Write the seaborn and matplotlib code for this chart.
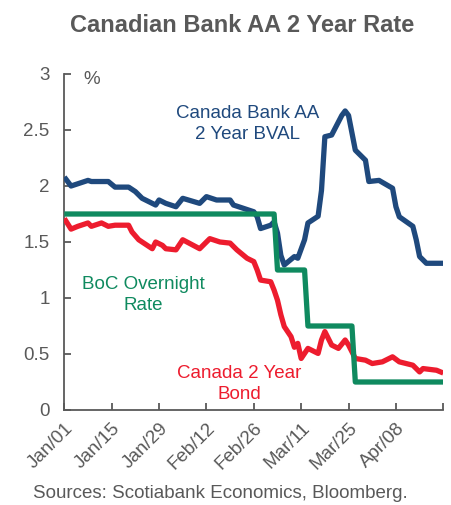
import matplotlib
matplotlib.use("Agg")
import matplotlib.pyplot as plt
import pandas as pd
import seaborn as sns

# ---- data ----
bval_dates = ["2020-01-01", "2020-01-03", "2020-01-05", "2020-01-08", "2020-01-09", "2020-01-14",
              "2020-01-16", "2020-01-20", "2020-01-22", "2020-01-24", "2020-01-28", "2020-01-29",
              "2020-01-31", "2020-02-03", "2020-02-05", "2020-02-10", "2020-02-12", "2020-02-15",
              "2020-02-19", "2020-02-20", "2020-02-23", "2020-02-26", "2020-02-27", "2020-02-28",
              "2020-03-02", "2020-03-03", "2020-03-04", "2020-03-05", "2020-03-06", "2020-03-09",
              "2020-03-10", "2020-03-12", "2020-03-13", "2020-03-16", "2020-03-17", "2020-03-18",
              "2020-03-20", "2020-03-23", "2020-03-24", "2020-03-25", "2020-03-27", "2020-03-30",
              "2020-03-31", "2020-04-03", "2020-04-07", "2020-04-08", "2020-04-09", "2020-04-13",
              "2020-04-14", "2020-04-15", "2020-04-17", "2020-04-22"]
bval_values = [2.08, 2.00, 2.02, 2.05, 2.04, 2.04,
               1.99, 1.99, 1.95, 1.89, 1.83, 1.875,
               1.845, 1.815, 1.89, 1.845, 1.905, 1.875,
               1.875, 1.83, 1.80, 1.77, 1.725, 1.62,
               1.65, 1.68, 1.58, 1.38, 1.295, 1.37,
               1.355, 1.52, 1.67, 1.73, 1.96, 2.44,
               2.455, 2.63, 2.67, 2.63, 2.32, 2.23,
               2.04, 2.05, 1.98, 1.815, 1.725, 1.64,
               1.52, 1.37, 1.31, 1.31]

boc_dates = ["2020-01-01", "2020-03-03", "2020-03-04", "2020-03-12", "2020-03-13",
             "2020-03-26", "2020-03-27", "2020-04-22"]
boc_values = [1.75, 1.75, 1.25, 1.25, 0.75, 0.75, 0.25, 0.25]

gc2_dates = ["2020-01-01", "2020-01-03", "2020-01-05", "2020-01-08", "2020-01-09", "2020-01-12",
             "2020-01-14", "2020-01-16", "2020-01-20", "2020-01-21", "2020-01-23", "2020-01-27",
             "2020-01-28", "2020-01-30", "2020-01-31", "2020-02-03", "2020-02-05", "2020-02-10",
             "2020-02-13", "2020-02-16", "2020-02-19", "2020-02-20", "2020-02-21", "2020-02-24",
             "2020-02-26", "2020-02-27", "2020-02-28", "2020-03-02", "2020-03-03", "2020-03-04",
             "2020-03-05", "2020-03-06", "2020-03-08", "2020-03-09", "2020-03-10", "2020-03-11",
             "2020-03-13", "2020-03-16", "2020-03-17", "2020-03-18", "2020-03-20", "2020-03-22",
             "2020-03-24", "2020-03-25", "2020-03-27", "2020-03-30", "2020-04-01", "2020-04-04",
             "2020-04-07", "2020-04-09", "2020-04-13", "2020-04-15", "2020-04-16", "2020-04-20",
             "2020-04-22"]
gc2_values = [1.71, 1.615, 1.64, 1.67, 1.64, 1.67,
              1.64, 1.65, 1.65, 1.59, 1.52, 1.44,
              1.50, 1.47, 1.44, 1.43, 1.52, 1.44,
              1.53, 1.50, 1.49, 1.46, 1.43, 1.355,
              1.325, 1.25, 1.16, 1.145, 1.07, 0.98,
              0.85, 0.745, 0.655, 0.56, 0.595, 0.46,
              0.55, 0.505, 0.625, 0.70, 0.58, 0.55,
              0.625, 0.58, 0.46, 0.445, 0.415, 0.43,
              0.475, 0.43, 0.40, 0.34, 0.37, 0.355,
              0.33]

tick_dates = ["2020-01-01", "2020-01-15", "2020-01-29", "2020-02-12", "2020-02-26",
              "2020-03-11", "2020-03-25", "2020-04-08", "2020-04-22"]
tick_labels = ["Jan/01", "Jan/15", "Jan/29", "Feb/12", "Feb/26", "Mar/11", "Mar/25", "Apr/08", ""]
y_ticks = [0, 0.5, 1, 1.5, 2, 2.5, 3]
y_labels = ["0", "0.5", "1", "1.5", "2", "2.5", "3"]

# ---- style ----
sns.set_theme(style="white")
plt.rcParams["font.family"] = ["Liberation Sans", "DejaVu Sans"]

GRAY = "#595959"
BLUE = "#1F497D"
RED = "#ED1C2E"
GREEN = "#0F8A5F"

bval = pd.DataFrame({"date": pd.to_datetime(bval_dates), "value": bval_values})
boc = pd.DataFrame({"date": pd.to_datetime(boc_dates), "value": boc_values})
gc2 = pd.DataFrame({"date": pd.to_datetime(gc2_dates), "value": gc2_values})

fig = plt.figure(figsize=(4.52, 5.05), dpi=100)
ax = fig.add_axes([64.3 / 452, 1 - 410 / 505, (443.3 - 64.3) / 452, (410 - 74) / 505])

lw = 3.8
line_kw = dict(solid_joinstyle="round", solid_capstyle="butt")
sns.lineplot(data=bval, x="date", y="value", ax=ax, color=BLUE, linewidth=lw, zorder=3, **line_kw)
sns.lineplot(data=gc2, x="date", y="value", ax=ax, color=RED, linewidth=lw, zorder=4, **line_kw)
sns.lineplot(data=boc, x="date", y="value", ax=ax, color=GREEN, linewidth=lw, zorder=5, **line_kw)

ax.set_xlim(pd.Timestamp("2020-01-01"), pd.Timestamp("2020-04-22"))
ax.set_ylim(0, 3)
ax.set_xlabel("")
ax.set_ylabel("")

ax.set_yticks(y_ticks)
ax.set_yticklabels(y_labels)
ax.set_xticks(pd.to_datetime(tick_dates))
ax.set_xticklabels(tick_labels, rotation=45, ha="right", rotation_mode="anchor")

for s in ["top", "right"]:
    ax.spines[s].set_visible(False)
for s in ["left", "bottom"]:
    ax.spines[s].set_color(GRAY)
    ax.spines[s].set_linewidth(1.3)

ax.tick_params(axis="y", direction="in", length=5, width=1.3, color=GRAY,
               labelcolor=GRAY, labelsize=13.5, pad=10.5, left=True)
ax.tick_params(axis="x", direction="in", length=5, width=1.3, color=GRAY,
               labelcolor=GRAY, labelsize=13.5, pad=7, bottom=True)

# annotations
fig.text(92 / 452, 1 - 80 / 505, "%", fontsize=13.5, color=GRAY,
         ha="center", va="center")
fig.text(248 / 452, 1 - 124 / 505, "Canada Bank AA\n2 Year BVAL", color=BLUE,
         fontsize=13.5, ha="center", va="center", linespacing=1.35)
fig.text(143 / 452, 1 - 295 / 505, "BoC Overnight\nRate", color=GREEN,
         fontsize=13.5, ha="center", va="center", linespacing=1.35)
fig.text(239 / 452, 1 - 384 / 505, "Canada 2 Year\nBond", color=RED,
         fontsize=13.5, ha="center", va="center", linespacing=1.35)

fig.text(242 / 452, 1 - 25 / 505, "Canadian Bank AA 2 Year Rate", color=GRAY,
         fontsize=17, fontweight="bold", ha="center", va="center")
fig.text(220 / 452, 1 - 493 / 505, "Sources: Scotiabank Economics, Bloomberg.",
         color=GRAY, fontsize=13.5, ha="center", va="center")

fig.savefig("out.png", dpi=100)
